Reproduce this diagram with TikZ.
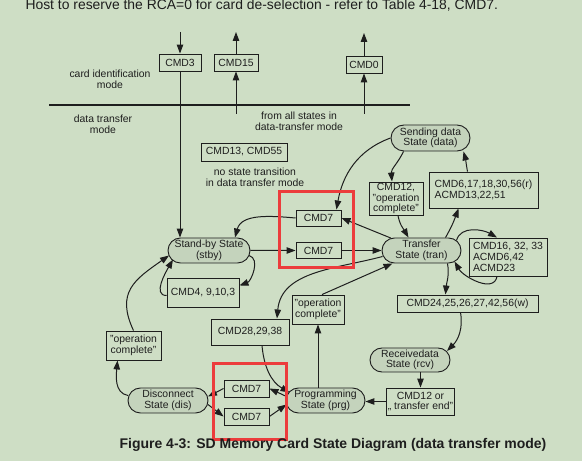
\documentclass[tikz,border=0pt]{standalone}
\usepackage{fontspec}
\setmainfont{Liberation Sans}
\usetikzlibrary{arrows.meta,shapes.misc,calc}
\definecolor{paper}{RGB}{206,222,197}
\definecolor{pill}{RGB}{196,211,188}
\definecolor{ink}{RGB}{30,30,30}
\definecolor{hilite}{RGB}{236,60,60}
\tikzset{
  cmdbox/.style={draw=ink, line width=0.9pt, fill=paper, inner sep=1pt, align=center, font=\fontsize{10.4}{10.6}\selectfont},
  statebox/.style={rounded rectangle, draw=ink, line width=0.9pt, fill=pill, inner sep=1pt, align=center, font=\fontsize{10.4}{10.6}\selectfont},
  note/.style={align=center, font=\fontsize{10.4}{10.6}\selectfont},
  arr/.style={draw=ink, line width=1pt, -{Triangle[length=9pt,width=6.5pt]}},
}
\begin{document}
\begin{tikzpicture}[x=1pt,y=1pt,text=ink]
\fill[paper] (0,0) rectangle (582,461);
\useasboundingbox (0,0) rectangle (582,461);

\node[anchor=base west,font=\fontsize{13.9}{15}\selectfont] (host) at (22,451) {Host to reserve the RCA=0 for card de-selection - refer to Table 4-18, CMD7.};

% card identification part
\node[cmdbox,minimum width=42pt,minimum height=17pt] (cmdthree) at (180,398.5) {CMD3};
\node[cmdbox,minimum width=44pt,minimum height=17pt] (cmdfifteen) at (236,398.5) {CMD15};
\node[cmdbox,minimum width=36pt,minimum height=17pt] (cmdzero) at (364,396.5) {CMD0};
\draw[ink,line width=1.3pt] (49,356) -- (410,356);
\node[note] (cidmode) at (110,381.5) {card identification\\mode};
\node[note] (dtmode) at (103,336.5) {data transfer\\mode};
\node[note] (fromall) at (299,340) {from all states in\\data-transfer mode};
\node[cmdbox,minimum width=86pt,minimum height=18pt] (cmdthirteen) at (244,309) {CMD13, CMD55};
\node[note] (nostate) at (255,284) {no state transition\\in data transfer mode};

% states
\node[statebox,minimum width=81pt,minimum height=26pt] (data) at (430.5,323) {Sending data\\State (data)};
\node[statebox,minimum width=81pt,minimum height=25pt] (tran) at (421.5,210.5) {Transfer\\State (tran)};
\node[statebox,minimum width=84pt,minimum height=25pt] (stby) at (209,210.5) {Stand-by State\\(stby)};
\node[statebox,minimum width=82pt,minimum height=24pt] (rcv) at (410,101) {Receivedata\\State (rcv)};
\node[statebox,minimum width=82pt,minimum height=25pt] (dis) at (168,60.5) {Disconnect\\State (dis)};
\node[statebox,minimum width=81pt,minimum height=25pt] (prg) at (325.5,60.5) {Programming\\State (prg)};

% commands
\node[cmdbox,minimum width=54pt,minimum height=33pt] (cmdtwelve) at (396,262.5) {CMD12,\\"operation\\complete"};
\node[cmdbox,minimum width=109pt,minimum height=36pt,align=left] (cmdsix) at (483.5,271) {CMD6,17,18,30,56(r)\\ACMD13,22,51};
\node[cmdbox,minimum width=45pt,minimum height=16pt] (cmdsevA) at (318.5,243) {CMD7};
\node[cmdbox,minimum width=45pt,minimum height=16pt] (cmdsevB) at (318.5,210.5) {CMD7};
\node[cmdbox,minimum width=78pt,minimum height=38pt,align=left] (cmdsixteen) at (508,204) {CMD16, 32, 33\\ACMD6,42\\ACMD23};
\node[cmdbox,minimum width=72pt,minimum height=29pt] (cmdfour) at (203,168.5) {CMD4, 9,10,3};
\node[cmdbox,minimum width=141pt,minimum height=17pt] (cmdtwentyfour) at (467.5,157.5) {CMD24,25,26,27,42,56(w)};
\node[cmdbox,minimum width=52pt,minimum height=29pt] (opcM) at (318,151.5) {"operation\\complete"};
\node[cmdbox,minimum width=78pt,minimum height=26pt] (cmdtwentyeight) at (250,129) {CMD28,29,38};
\node[cmdbox,minimum width=55pt,minimum height=29pt] (opcL) at (133.5,115.5) {"operation\\complete"};
\node[cmdbox,minimum width=63pt,minimum height=27pt] (cmdtwelveor) at (420.5,59.5) {CMD12 or\\„ transfer end"};
\node[cmdbox,minimum width=45pt,minimum height=17pt] (cmdsevC) at (246.5,72.5) {CMD7};
\node[cmdbox,minimum width=45pt,minimum height=17pt] (cmdsevD) at (246.5,44.5) {CMD7};

\coordinate (hostin) at (180,429);
\coordinate (cmdfifteenin) at (236,347);
\coordinate (cmdfifteenout) at (236,429);
\coordinate (cmdzeroin) at (364,347);
\coordinate (cmdzeroout) at (364,428);

\draw[arr] (hostin) -- (cmdthree);
\draw[arr] (cmdthree) -- (cmdthree |- stby.north);
\draw[arr] (cmdfifteenin) -- (cmdfifteen);
\draw[arr] (cmdfifteen) -- (cmdfifteenout);
\draw[arr] (cmdzeroin) -- (cmdzero);
\draw[arr] (cmdzero) -- (cmdzeroout);

% transfer loop
\draw[arr] (stby) -- (cmdsevB);
\draw[arr] (cmdsevB) -- (tran);
\draw[arr] (tran) -- (cmdsevA.east);
\draw[arr] (cmdsevA.west) to[out=175,in=75] ($(stby.north)+(26,0)$);
\draw[arr] (data.west) to[out=200,in=80] ($(cmdsevA.north east)+(-5,0)$);
\draw[arr] ($(data.south)+(-27,0)$) to[out=-115,in=95] ($(cmdtwelve.north)+(-4,0)$);
\draw[arr] ($(cmdtwelve.south)+(2,0)$) to[out=-80,in=120] ($(tran.north)+(-13,0)$);
\draw[arr] ($(tran.north)+(24,0)$) to[out=60,in=-110] ($(cmdsix.south)+(-25,0)$);
\draw[arr] ($(cmdsix.north)+(-16,0)$) to[out=100,in=-75] ($(data.south)+(33,0)$);
\draw[arr] ($(tran.center)+(35,10)$) to[out=75,in=150] ($(cmdsixteen.north)+(-11,0)$);
\draw[arr] ($(cmdsixteen.south)+(-11,0)$) to[out=-100,in=-60] ($(tran.center)+(33,-11)$);
\draw[arr] ($(tran.south)+(26,0)$) to[out=-80,in=85] ($(cmdtwentyfour.north)+(-22,0)$);
\draw[arr] ($(cmdtwentyfour.south)+(-7,0)$) to[out=-80,in=45] ($(rcv.center)+(37,9)$);
\draw[arr] (cmdtwelveor.north |- rcv.south) -- (cmdtwelveor.north);
\draw[arr] (cmdtwelveor.west) -- (prg.east |- cmdtwelveor.west);
\draw[arr] (opcM |- prg.north) -- (opcM.south);
\draw[arr] ($(opcM.north)+(4,0)$) -- ($(tran.south)+(-29,0)$);
\draw[arr] ($(tran.center)+(-39,-6)$) to[out=195,in=85] ($(cmdtwentyeight.north)+(27,0)$);
\draw[arr] ($(cmdtwentyeight.south)+(12,0)$) to[out=-85,in=150] ($(prg.center)+(-36,8)$);

% disconnect
\draw[arr] ($(prg.center)+(-39,4)$) -- (cmdsevC.east);
\draw[arr] (cmdsevC.west) -- ($(dis.center)+(40,4)$);
\draw[arr] ($(dis.center)+(40,-4)$) -- (cmdsevD.west);
\draw[arr] (cmdsevD.east) -- ($(prg.center)+(-39,-4)$);
\draw[arr] ($(dis.center)+(-40,5)$) to[out=170,in=-95] ($(opcL.south)+(-16,0)$);
\draw[arr] (opcL.north) to[out=115,in=215,looseness=1.3] ($(stby.center)+(-40,-5)$);
\draw[arr] ($(cmdfour.west)+(0,-3)$) to[out=180,in=240] ($(stby.center)+(-36,-9)$);
\draw[arr] ($(stby.center)+(40,-5)$) to[out=-15,in=20] ($(cmdfour.east)+(0,7)$);

\draw[hilite,line width=3pt] (279,193) rectangle (353,269);
\draw[hilite,line width=3pt] (213,21) rectangle (286,97);

\node[font=\bfseries\fontsize{14}{16}\selectfont] (caption) at (333,16) {Figure 4-3: SD Memory Card State Diagram (data transfer mode)};
\end{tikzpicture}
\end{document}
